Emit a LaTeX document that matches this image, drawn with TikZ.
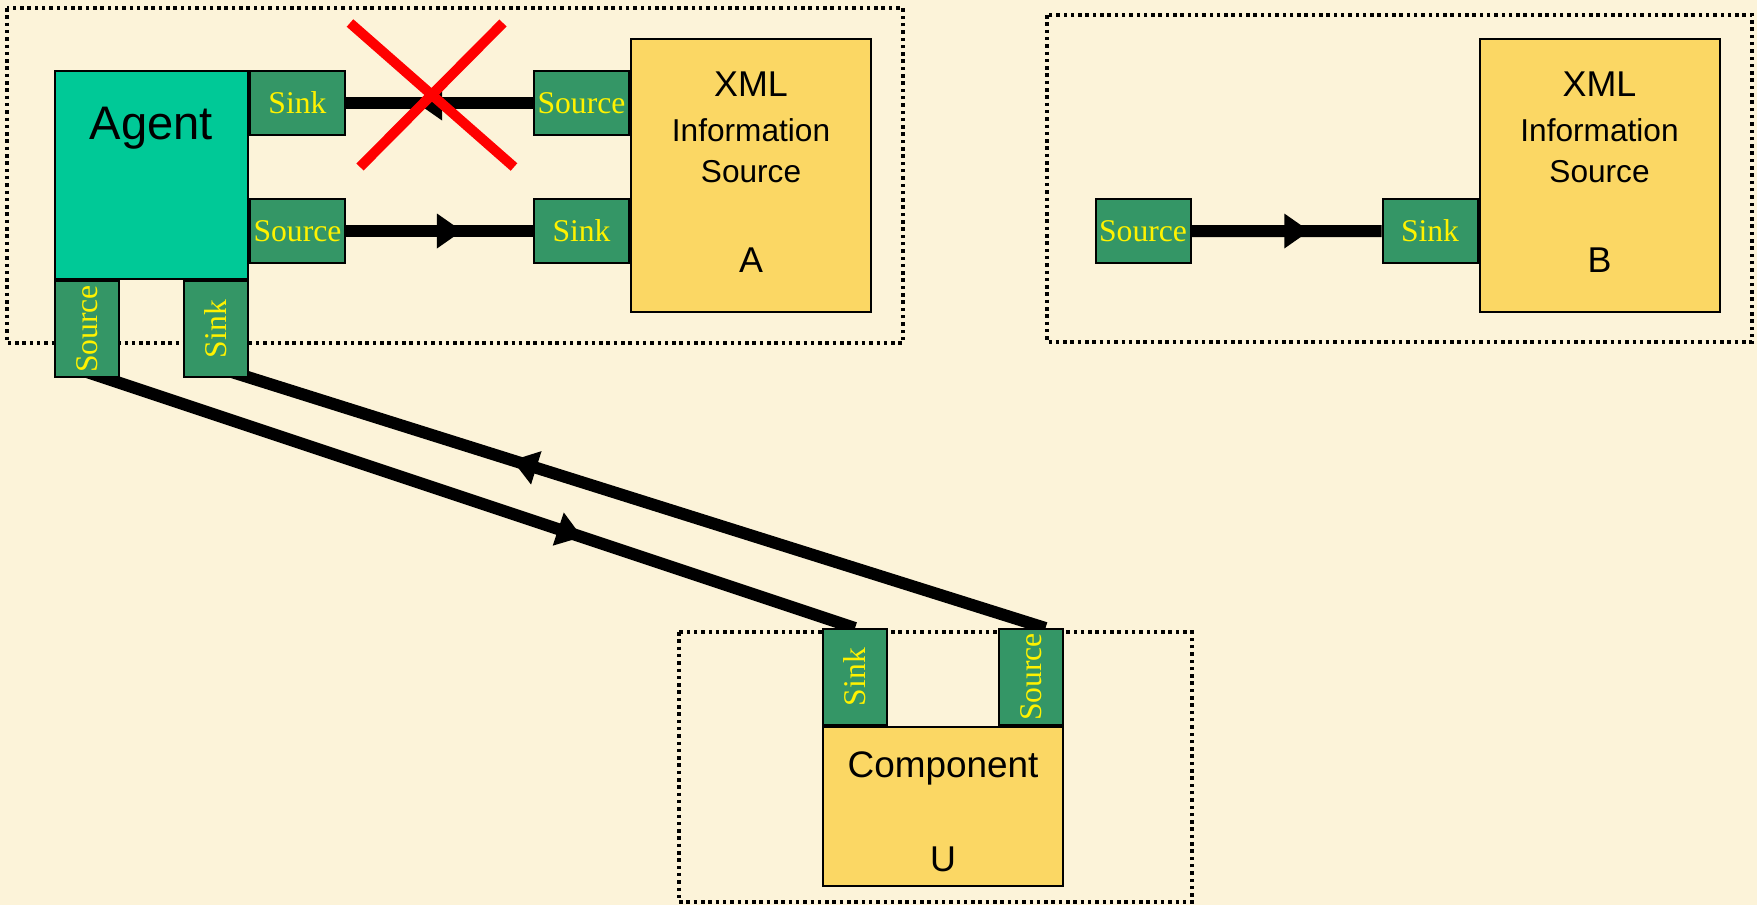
\documentclass[tikz,border=0pt]{standalone}
\usepackage{fontspec}
\setmainfont{Liberation Serif}
\setsansfont{Liberation Sans}
\usetikzlibrary{arrows.meta,decorations.markings}

\definecolor{paper}{RGB}{252,243,217}
\definecolor{agentgreen}{RGB}{0,201,151}
\definecolor{portgreen}{RGB}{52,150,102}
\definecolor{infoyellow}{RGB}{251,215,100}

\pgfdeclarelayer{paperlayer}
\pgfdeclarelayer{wires}
\pgfsetlayers{paperlayer,wires,main}

\tikzset{
  port/.style={draw=black, line width=0.2mm, fill=portgreen, text=yellow, inner sep=0pt,
    font=\fontsize{9}{10}\selectfont},
  hport/.style={port, minimum width=9.5mm, minimum height=6.4mm},
  vport/.style={port, minimum width=6.4mm, minimum height=9.6mm},
  infobox/.style={draw=black, line width=0.2mm, fill=infoyellow, minimum width=24mm, minimum height=27.3mm},
  zone/.style={draw=black, line width=0.35mm, dash pattern=on 0.35mm off 0.38mm},
  flow/.style={line width=1.2mm, postaction={decorate},
    decoration={markings, mark=at position #1 with {\arrow{Triangle[length=2.5mm,width=3.5mm,line width=0pt]}}}},
  flow/.default=0.62,
  cross/.style={red, line width=1mm},
  caption/.style={font=\sffamily\fontsize{10.2}{12}\selectfont, anchor=base, inner sep=0pt},
  subcaption/.style={caption, font=\sffamily\fontsize{9}{11}\selectfont}
}

\begin{document}
\begin{tikzpicture}[x=0.1mm, y=-0.1mm]
\begin{pgfonlayer}{paperlayer}
  \fill[paper] (0,0) rectangle (1757,905);
\end{pgfonlayer}
\useasboundingbox (0,0) rectangle (1757,905);

\draw[zone] (7,8) rectangle (903,343);
\draw[zone] (1047,15) rectangle (1752,342);
\draw[zone] (679,632) rectangle (1192,902);

% agent with its four ports
\node[draw=black, line width=0.2mm, fill=agentgreen, minimum width=19.3mm, minimum height=20.8mm] (agent) at (151.5,175) {};
\node[caption, font=\sffamily\fontsize{13.4}{16}\selectfont] (agentname) at ([yshift=-6.9mm]agent.north) {Agent};
\node[hport, anchor=north west] (agsnk) at (agent.north east) {Sink};
\node[hport, anchor=north west] (agsrc) at ([yshift=-12.8mm]agent.north east) {Source};
\node[vport, anchor=north west] (agsrcv) at (agent.south west) {\rotatebox{90}{Source}};
\node[vport, anchor=north east] (agsnkv) at (agent.south east) {\rotatebox{90}{Sink}};

% information source A
\node[infobox] (xmlA) at (751,175.5) {};
\node[caption] (xmlAname) at ([yshift=-5.8mm]xmlA.north) {XML};
\node[subcaption] (xmlAinfo) at ([yshift=-10.3mm]xmlA.north) {Information};
\node[subcaption] (xmlAsrc) at ([yshift=-14.4mm]xmlA.north) {Source};
\node[caption] (xmlAid) at ([yshift=-23.4mm]xmlA.north) {A};
\node[hport, anchor=east] (asrc) at (xmlA.west |- agsnk) {Source};
\node[hport, anchor=east] (asnk) at (xmlA.west |- agsrc) {Sink};

% information source B
\node[infobox] (xmlB) at (1599.5,175.5) {};
\node[caption] (xmlBname) at ([yshift=-5.8mm]xmlB.north) {XML};
\node[subcaption] (xmlBinfo) at ([yshift=-10.3mm]xmlB.north) {Information};
\node[subcaption] (xmlBsrc) at ([yshift=-14.4mm]xmlB.north) {Source};
\node[caption] (xmlBid) at ([yshift=-23.4mm]xmlB.north) {B};
\node[hport, anchor=east] (bsnk) at (xmlB.west |- asnk) {Sink};
\node[hport] (bsrc) at (1143,231) {Source};

% component U
\node[draw=black, line width=0.2mm, fill=infoyellow, minimum width=24mm, minimum height=15.9mm] (comp) at (943,806.5) {};
\node[caption, font=\sffamily\fontsize{10.5}{12}\selectfont] (compname) at ([yshift=-5.1mm]comp.north) {Component};
\node[caption] (compid) at ([yshift=-14.5mm]comp.north) {U};
\node[vport, anchor=south west] (usnk) at (comp.north west) {\rotatebox{90}{Sink}};
\node[vport, anchor=south east] (usrc) at (comp.north east) {\rotatebox{90}{Source}};

\begin{pgfonlayer}{wires}
  \draw[flow] (asrc) -- (agsnk);
  \draw[flow] (agsrc) -- (asnk);
  \draw[flow] (bsrc) -- (bsnk);
  \draw[flow=0.65] ([xshift=-1.2mm,yshift=1mm]agsrcv.south) -- (usnk.north);
  \draw[flow=0.645] ([xshift=1.45mm]usrc.north) -- ([xshift=-3mm,yshift=1mm]agsnkv.south east);
\end{pgfonlayer}

\draw[cross] (350,23) -- (514,167);
\draw[cross] (503,23) -- (360,167);
\end{tikzpicture}
\end{document}
